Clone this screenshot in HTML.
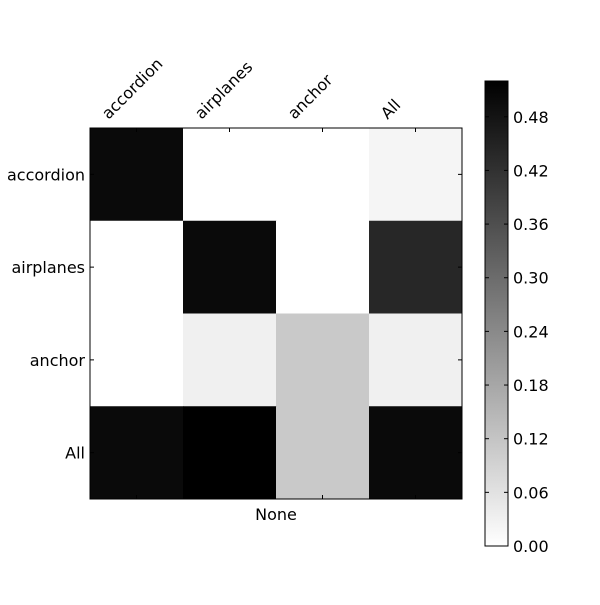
<!DOCTYPE html>
<html><head><meta charset="utf-8"><style>
html,body{margin:0;padding:0;background:#fff;}
svg text{font-family:"DejaVu Sans","Liberation Sans",sans-serif;font-size:16px;fill:#000;}
</style></head><body>
<svg id="chart" width="600" height="600" xmlns="http://www.w3.org/2000/svg">
<rect width="600" height="600" fill="#fff"/>
<g id="cells"></g>
<g id="axes"></g>
<g id="cbar"></g>
</svg>
<script>
const rowLabels = ["accordion","airplanes","anchor","All"];
const colLabels = ["accordion","airplanes","anchor","All"];
const values = [
  [0.50, 0.00, 0.00, 0.02],
  [0.00, 0.50, 0.00, 0.44],
  [0.00, 0.03, 0.11, 0.03],
  [0.50, 0.52, 0.11, 0.50]
];
const cbTicks = [0.00,0.06,0.12,0.18,0.24,0.30,0.36,0.42,0.48];
const vmax = 0.52;

const NS="http://www.w3.org/2000/svg";
function mk(tag, attrs, parent){const e=document.createElementNS(NS,tag);for(const k in attrs)e.setAttribute(k,attrs[k]);parent.appendChild(e);return e;}
const L=90,T=128,W=372,H=371;
const cw=W/colLabels.length, ch=H/rowLabels.length;
const xS=i=>L+i*cw, yS=j=>T+j*ch;
function gray(v){const g=Math.round(255*(1-Math.max(0,Math.min(1,v/vmax))));return `rgb(${g},${g},${g})`;}
const cells=document.getElementById('cells');
values.forEach((row,j)=>row.forEach((v,i)=>{
  const r=mk('rect',{x:xS(i),y:yS(j),width:cw+0.5,height:ch+0.5,fill:gray(v)},cells);
  
  
}));
const ax=document.getElementById('axes');
mk('rect',{x:L,y:T,width:W,height:H,fill:'none',stroke:'#000','stroke-width':1},ax);
colLabels.forEach((c,i)=>{
  const x=xS(i)+cw/2;
  mk('line',{x1:x,y1:T,x2:x,y2:T+4,stroke:'#000'},ax);
  mk('line',{x1:x,y1:T+H,x2:x,y2:T+H-4,stroke:'#000'},ax);
  const t=mk('text',{x:x-28,y:T-8,transform:`rotate(-45 ${x-28} ${T-8})`},ax);
  t.textContent=c;
  
  
});
rowLabels.forEach((r,j)=>{
  const y=yS(j)+ch/2;
  mk('line',{x1:L,y1:y,x2:L+4,y2:y,stroke:'#000'},ax);
  mk('line',{x1:L+W,y1:y,x2:L+W-4,y2:y,stroke:'#000'},ax);
  const t=mk('text',{x:L-5,y:y+6,'text-anchor':'end'},ax);
  t.textContent=r;
  
  
});
const xt=mk('text',{x:L+W/2,y:T+H+21,'text-anchor':'middle'},ax);
xt.textContent='None';


const cb=document.getElementById('cbar');
const CL=485,CT=81,CW=23,CH=465;
const defs=mk('defs',{},cb);
const gr=mk('linearGradient',{id:'cg',x1:0,y1:1,x2:0,y2:0},defs);
mk('stop',{offset:0,'stop-color':'#fff'},gr);
mk('stop',{offset:1,'stop-color':'#000'},gr);
mk('rect',{x:CL,y:CT,width:CW,height:CH,fill:'url(#cg)',stroke:'#000','stroke-width':1},cb);
const cy=v=>CT+CH-(v/vmax)*CH;
cbTicks.forEach(v=>{
  const y=cy(v);
  mk('line',{x1:CL+CW,y1:y,x2:CL+CW-4,y2:y,stroke:'#000'},cb);
  mk('line',{x1:CL,y1:y,x2:CL+4,y2:y,stroke:'#000'},cb);
  const t=mk('text',{x:CL+CW+5,y:y+6},cb);
  t.textContent=v.toFixed(2);
  
  
});
</script>
</body></html>
